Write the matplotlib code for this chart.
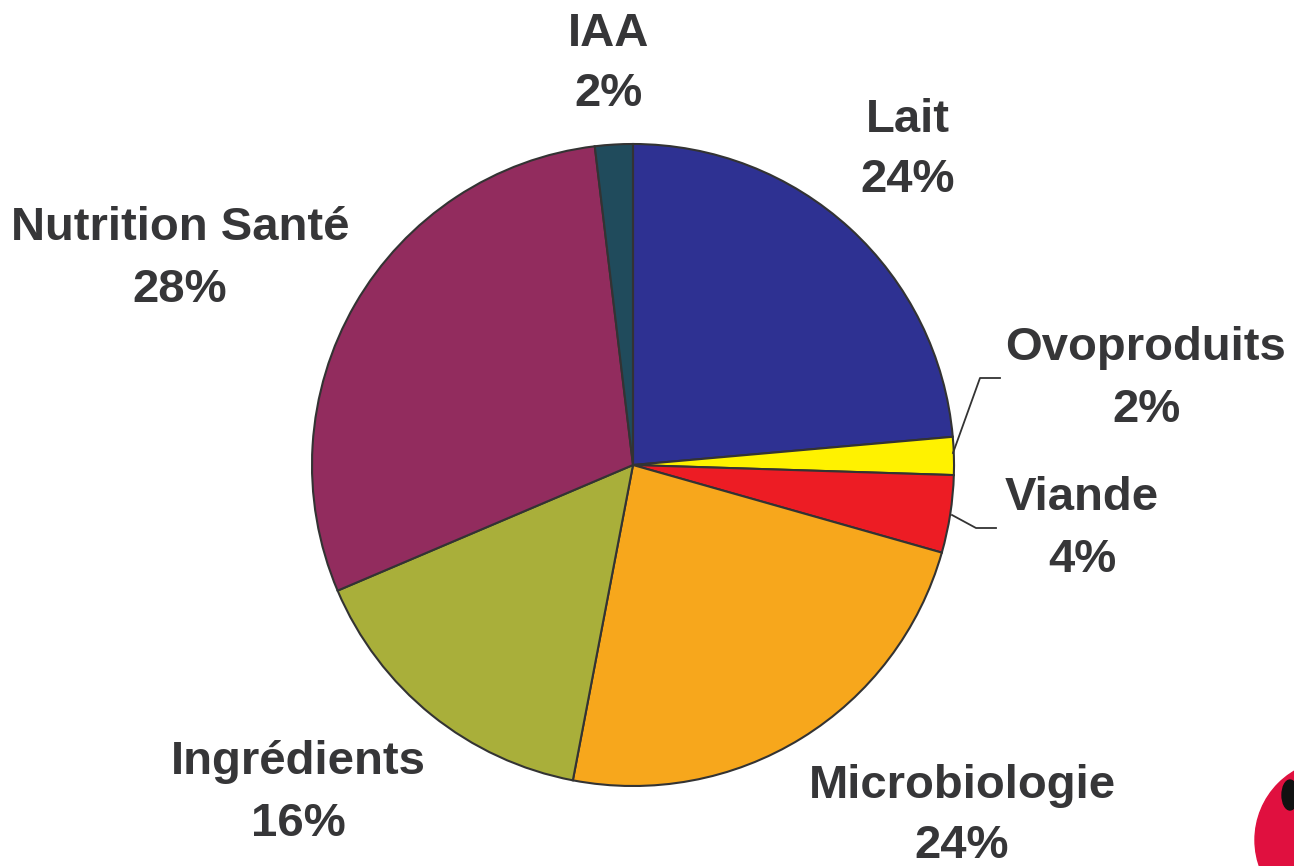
import matplotlib.pyplot as plt
from matplotlib.patches import Circle, Ellipse

# Parts du camembert, dans le sens horaire depuis le haut
categories = ['Lait', 'Ovoproduits', 'Viande', 'Microbiologie', 'Ingrédients',
              'Nutrition Santé', 'IAA']
parts = [23.6, 1.9, 3.9, 23.6, 15.6, 29.5, 1.9]
pct_labels = ['24%', '2%', '4%', '24%', '16%', '28%', '2%']
colors = ['#2E3192', '#FFF200', '#ED1C24', '#F7A71C', '#A9AF3A', '#922C5E', '#204B5C']

W, H = 1294, 866
fig = plt.figure(figsize=(W / 100, H / 100), dpi=100)
ax = fig.add_axes([0, 0, 1, 1])

cx, cy, r = 633, H - 465, 321
ax.pie(parts, colors=colors, startangle=90, counterclock=False,
       center=(cx, cy), radius=r, frame=True,
       wedgeprops=dict(edgecolor='#333333', linewidth=1.5))
ax.set_xlim(0, W)
ax.set_ylim(0, H)
ax.set_aspect('equal')
ax.axis('off')

# positions des étiquettes (centre du texte, en pixels depuis le haut)
label_pos = {
    'Lait': (908, 150),
    'Ovoproduits': (1146, 379),
    'Viande': (1082, 529),
    'Microbiologie': (962, 816),
    'Ingrédients': (298, 793),
    'Nutrition Santé': (180, 259),
    'IAA': (609, 64),
}
txt_col = '#363638'
for cat, pct in zip(categories, pct_labels):
    x, y = label_pos[cat]
    ax.text(x, H - y, f'{cat}\n{pct}', ha='center', va='center',
            fontsize=34, fontweight='bold', color=txt_col,
            family='Liberation Sans', linespacing=1.5)

# lignes de rappel
ax.plot([953, 980, 1000], [H - 453, H - 378, H - 378], color='#333333', lw=1.3)
ax.plot([952, 976, 996], [H - 515, H - 528, H - 528], color='#333333', lw=1.3)

# logo coupé en bas à droite
ax.add_patch(Circle((1335, H - 840), 80, color='#E0103F', zorder=3))
ax.add_patch(Ellipse((1290, H - 795), 16, 30, color='#111111', zorder=4))

fig.savefig('out.png', dpi=100)
